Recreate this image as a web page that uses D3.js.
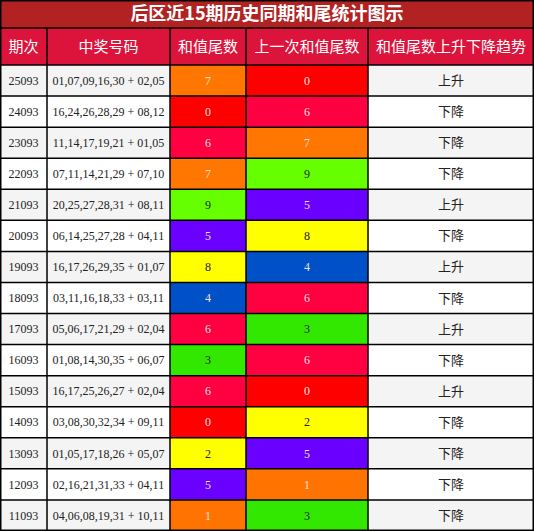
<!DOCTYPE html>
<html><head><meta charset="utf-8">
<script src="https://cdn.jsdelivr.net/npm/d3@7"></script>
<style>body{margin:0;background:#fff}</style>
</head><body><div id="chart"></div>
<script>
var width = 534, height = 531;
var title = "后区近15期历史同期和尾统计图示";
var headers = ["期次", "中奖号码", "和值尾数", "上一次和值尾数", "和值尾数上升下降趋势"];
var periods = ["25093","24093","23093","22093","21093","20093","19093","18093","17093","16093","15093","14093","13093","12093","11093"];
var numbers = ["01,07,09,16,30 + 02,05","16,24,26,28,29 + 08,12","11,14,17,19,21 + 01,05","07,11,14,21,29 + 07,10","20,25,27,28,31 + 08,11","06,14,25,27,28 + 04,11","16,17,26,29,35 + 01,07","03,11,16,18,33 + 03,11","05,06,17,21,29 + 02,04","01,08,14,30,35 + 06,07","16,17,25,26,27 + 02,04","03,08,30,32,34 + 09,11","01,05,17,18,26 + 05,07","02,16,21,31,33 + 04,11","04,06,08,19,31 + 10,11"];
var tails = [7,0,6,7,9,5,8,4,6,3,6,0,2,5,1];
var prevTails = [0,6,7,9,5,8,4,6,3,6,0,2,5,1,3];
var trends = ["上升","下降","下降","下降","上升","下降","上升","下降","上升","下降","上升","下降","下降","下降","下降"];

var digitColor = ["#ff0000","#ff7300","#ffff00","#33e800","#0050c8","#6a00ff","#ff0040","#ff7700","#ffff00","#66ff00"];
var darkText = [false,false,true,true,false,false,false,false,true,true];

var colEdges = [0, 47, 170, 246, 368, 534];
var titleH = 28, headH = 37;
var y = d3.scaleBand().domain(d3.range(periods.length)).range([titleH + headH, height]);

var svg = d3.select("#chart").append("svg").attr("width", width).attr("height", height);
var sans = "'Noto Sans CJK SC', sans-serif", serif = "'Liberation Serif', serif";

svg.append("rect").attr("width", width).attr("height", titleH).attr("fill", "#b22222");
svg.append("text").attr("x", width / 2).attr("y", titleH / 2).attr("dy", ".35em")
  .attr("text-anchor", "middle").attr("fill", "#fff").attr("font-family", sans)
  .attr("font-size", 18).attr("font-weight", "bold").text(title);

svg.append("rect").attr("y", titleH).attr("width", width).attr("height", headH).attr("fill", "#dc143c");
headers.forEach(function (h, i) {
  svg.append("text").attr("x", (colEdges[i] + colEdges[i + 1]) / 2).attr("y", titleH + headH / 2).attr("dy", ".35em")
    .attr("text-anchor", "middle").attr("fill", "#fff").attr("font-family", sans).attr("font-size", 15).text(h);
});

var rows = svg.selectAll(".row").data(periods).enter().append("g").attr("class", "row")
  .attr("transform", function (d, i) { return "translate(0," + y(i) + ")"; });
var bh = y.bandwidth();

rows.append("rect").attr("width", width).attr("height", bh)
  .attr("fill", function (d, i) { return i % 2 ? "#ffffff" : "#f4f4f4"; });
rows.append("rect").attr("x", colEdges[2]).attr("width", colEdges[3] - colEdges[2]).attr("height", bh)
  .attr("fill", function (d, i) { return digitColor[tails[i]]; });
rows.append("rect").attr("x", colEdges[3]).attr("width", colEdges[4] - colEdges[3]).attr("height", bh)
  .attr("fill", function (d, i) { return digitColor[prevTails[i]]; });

function cellText(col, fn, font, size, color) {
  rows.append("text").attr("x", (colEdges[col] + colEdges[col + 1]) / 2).attr("y", bh / 2).attr("dy", ".35em")
    .attr("text-anchor", "middle").attr("font-family", font).attr("font-size", size)
    .attr("fill", color).text(fn);
}
cellText(0, function (d) { return d; }, serif, 12, "#222");
cellText(1, function (d, i) { return numbers[i]; }, serif, 12, "#222");
cellText(2, function (d, i) { return tails[i]; }, serif, 12, function (d, i) { return darkText[tails[i]] ? "#222" : "#f0e0e0"; });
cellText(3, function (d, i) { return prevTails[i]; }, serif, 12, function (d, i) { return darkText[prevTails[i]] ? "#222" : "#f0e0e0"; });
cellText(4, function (d, i) { return trends[i]; }, sans, 13, "#222");

// grid lines
var lines = svg.append("g").attr("stroke", "#000").attr("stroke-width", 1.5);
colEdges.slice(1, -1).forEach(function (x) {
  lines.append("line").attr("x1", x).attr("x2", x).attr("y1", titleH).attr("y2", height);
});
lines.append("line").attr("x1", 0).attr("x2", width).attr("y1", titleH).attr("y2", titleH);
d3.range(periods.length).forEach(function (i) {
  lines.append("line").attr("x1", 0).attr("x2", width).attr("y1", y(i)).attr("y2", y(i));
});
svg.append("rect").attr("x", 0.75).attr("y", 0.75).attr("width", width - 1.5).attr("height", height - 1.5)
  .attr("fill", "none").attr("stroke", "#000").attr("stroke-width", 1.5);
</script></body></html>
